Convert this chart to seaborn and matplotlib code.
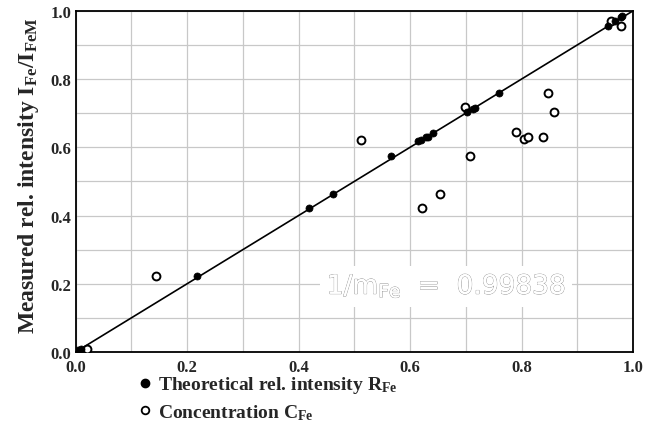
import matplotlib
matplotlib.use("Agg")
import matplotlib.pyplot as plt
import matplotlib.patheffects as pe
from matplotlib.lines import Line2D
import seaborn as sns
import pandas as pd
import numpy as np

# Theoretical rel. intensity R_Fe (filled)
theo_x = [0.005, 0.010, 0.217, 0.419, 0.461, 0.566, 0.614, 0.619, 0.629, 0.632,
          0.642, 0.703, 0.713, 0.717, 0.759, 0.956, 0.968, 0.978, 0.980]
theo_y = [0.005, 0.008, 0.224, 0.422, 0.463, 0.574, 0.618, 0.622, 0.630, 0.631,
          0.642, 0.703, 0.713, 0.715, 0.760, 0.955, 0.969, 0.983, 0.986]
# Concentration C_Fe (open)
conc_x = [0.020, 0.144, 0.512, 0.622, 0.653, 0.698, 0.708, 0.790, 0.805, 0.812,
          0.838, 0.848, 0.859, 0.961, 0.979]
conc_y = [0.009, 0.224, 0.620, 0.421, 0.464, 0.718, 0.575, 0.644, 0.623, 0.631,
          0.630, 0.760, 0.703, 0.969, 0.955]
slope_inv = 0.99838
tick_vals = [0.0, 0.1, 0.2, 0.3, 0.4, 0.5, 0.6, 0.7, 0.8, 0.9, 1.0]
tick_labels = ["0.0", "", "0.2", "", "0.4", "", "0.6", "", "0.8", "", "1.0"]

sns.set_style("white")
plt.rcParams['font.family'] = ['Liberation Serif', 'DejaVu Serif']
plt.rcParams['mathtext.fontset'] = 'custom'
plt.rcParams['mathtext.rm'] = 'DejaVu Sans'
plt.rcParams['mathtext.bf'] = 'Liberation Serif:bold'
plt.rcParams['mathtext.it'] = 'Liberation Serif:italic'

fig = plt.figure(figsize=(6.58, 4.39), dpi=100)
ax = fig.add_axes([0.115, 0.196, 0.847, 0.777])

df_t = pd.DataFrame({"x": theo_x, "y": theo_y})
df_c = pd.DataFrame({"x": conc_x, "y": conc_y})

# fit line
lx = np.array([0.0, 1.0])
ax.plot(lx, lx, color="black", lw=1.2, zorder=2)

sns.scatterplot(data=df_c, x="x", y="y", ax=ax, marker="o", s=32,
                facecolor="white", edgecolor="black", linewidth=1.4, zorder=3,
                legend=False)
sns.scatterplot(data=df_t, x="x", y="y", ax=ax, marker="o", s=26,
                color="black", edgecolor="black", linewidth=0.5, zorder=4,
                legend=False)

ax.set_xlim(0, 1.0)
ax.set_ylim(0, 1.0)
ax.set_xticks(tick_vals)
ax.set_yticks(tick_vals)
ax.set_xticklabels(tick_labels)
ax.set_yticklabels(tick_labels)
ax.grid(True, color="#c8c8c8", lw=0.9, zorder=0)
ax.tick_params(axis="x", length=0, labelsize=12, pad=5)
ax.tick_params(axis="y", length=0, labelsize=12, pad=3)
for lab in ax.get_xticklabels() + ax.get_yticklabels():
    lab.set_fontweight("bold")
for s in ax.spines.values():
    s.set_color("black")
    s.set_linewidth(1.3)
    s.set_visible(True)
ax.set_axisbelow(True)

ax.set_xlabel("")
ax.set_ylabel("Measured rel. intensity I$_{\\mathbf{Fe}}$/I$_{\\mathbf{FeM}}$",
              fontsize=17, fontweight="bold")
ax.yaxis.set_label_coords(-0.062, 0.52)

# annotation
t = ax.text(0.665, 0.193, "1/m$_{\\mathrm{Fe}}$  =  0.99838", fontsize=19,
            family="DejaVu Sans", color="white", ha="center", va="center",
            zorder=5,
            bbox=dict(boxstyle="square,pad=0.25", fc="white", ec="none"))
t.set_path_effects([pe.withStroke(linewidth=0.7, foreground="#8c8c8c"),
                    pe.Normal()])

# legend below
h1 = Line2D([], [], marker="o", ls="none", color="black", markersize=6)
h2 = Line2D([], [], marker="o", ls="none", markerfacecolor="white",
            markeredgecolor="black", markeredgewidth=1.3, markersize=5.5)
leg = fig.legend([h1, h2],
                 ["Theoretical rel. intensity R$_{\\mathbf{Fe}}$",
                  "Concentration C$_{\\mathbf{Fe}}$"],
                 loc="upper left", bbox_to_anchor=(0.205, 0.145), frameon=False,
                 prop={"family": "Liberation Serif", "weight": "bold", "size": 14},
                 handletextpad=0.2, handlelength=1.0, labelspacing=0.35,
                 borderaxespad=0, borderpad=0)

fig.savefig("out.png", dpi=100)
